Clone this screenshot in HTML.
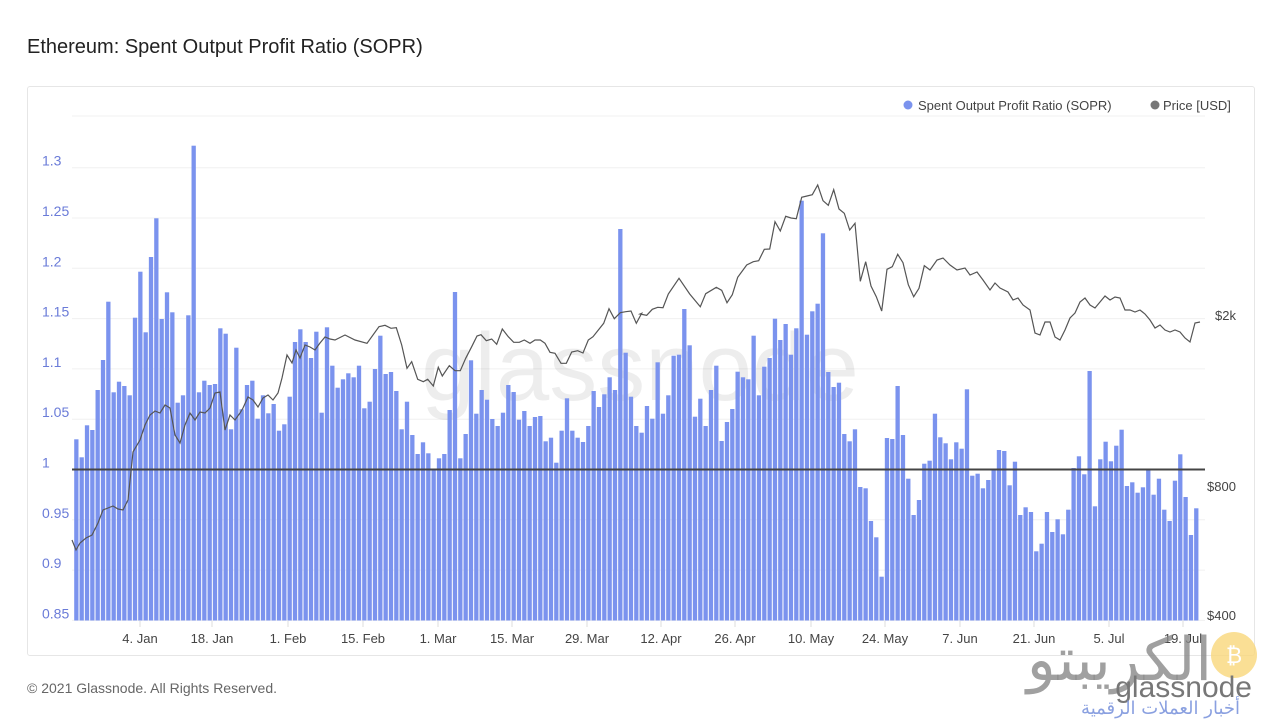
<!DOCTYPE html>
<html><head><meta charset="utf-8"><style>
body{margin:0;background:#fff;width:1280px;height:720px;overflow:hidden;font-family:"Liberation Sans",sans-serif;position:relative}
.t{position:absolute;left:27px;top:36px;font-size:20px;color:#222;}
.card{position:absolute;left:27px;top:86px;width:1226px;height:568px;border:1px solid #e6e6e6;border-radius:3px}
.f{position:absolute;left:27px;top:680px;font-size:14px;color:#666}
</style></head><body>
<div class="t">Ethereum: Spent Output Profit Ratio (SOPR)</div>
<div class="card"></div>
<div class="f">© 2021 Glassnode. All Rights Reserved.</div>
<svg id="s" width="1280" height="720" style="position:absolute;left:0;top:0" font-family="Liberation Sans, sans-serif"></svg>
<script>
var z3=[928,982,886,900,780,690,515,787,755,768,796,563,425,607,381,265,567,487,547,818,796,556,47,787,752,765,762,595,611,898,653,838,765,752,866,796,850,822,902,883,800,636,598,636,684,605,848,592,707,773,748,730,742,707];
var z4=[685,665,567,467,582,576,633,748,665,765,822,787,820,868,835,822,690,336,835,762,541,701,630,659,717,738,698,615,636,719,693,738,711,708,784,773,848,752,655,752,773,786,738,633,681,643,592,630,147,518,650,738,758];
var z5=[708,746,577,731,676,557,554,417,526,740,686,768,660,587,813,756,717,605,622,628,497,676,590,564,446,510,462,554,475,92,494,424,401,190,606,651,638,792,814,778,951,955,1053,1102,1220,804,807,648,795,926,1035,990,881,872];
var z2=[101,172,190,238,187,206,28,287,281,325,300,270,210,213,316,245,405,382,396,514,491,396,456,418,463,389,264,229,283,-27,379,238,185,244,197,149,318,307,338,322,270,344,296,389,423,302,223,351,465,385];
var tops=[];
z3.forEach(v=>tops.push(130+v/3));z4.forEach(v=>tops.push(180+v/3));z5.forEach(v=>tops.push(170+v/3));z2.forEach(v=>tops.push(380+v/3));
var h='';
var vals=['1.3','1.25','1.2','1.15','1.1','1.05','1','0.95','0.9','0.85'];
h+='<line x1="72" x2="1205" y1="116" y2="116" stroke="#f0f0f0"/>';
for(var i=0;i<10;i++){var y=167.7+i*50.3;h+='<line x1="72" x2="1205" y1="'+y+'" y2="'+y+'" stroke="#f0f0f0"/>';h+='<text x="42" y="'+(y-2)+'" font-size="14" fill="#6a7bd8">'+vals[i]+'</text>';}
h+='<text x="640" y="400" text-anchor="middle" font-size="96" fill="#000" fill-opacity="0.07">glassnode</text>';
for(var i=0;i<tops.length;i++){var x=74.2+i*5.333;h+='<rect x="'+x.toFixed(2)+'" y="'+tops[i].toFixed(1)+'" width="4.3" height="'+(620.5-tops[i]).toFixed(1)+'" fill="#7b93ee"/>';}
h+='<line x1="72" x2="1205" y1="469.5" y2="469.5" stroke="#444" stroke-width="2"/>';
var p4=[[0,480],[36,490],[72,440],[90,436],[108,445],[124,443],[140,495],[156,565],[170,545],[188,598],[205,605],[218,598],[235,618],[250,562],[262,588],[283,557],[300,572],[316,572],[332,535],[350,500],[366,468],[378,464],[394,482],[410,477],[425,493],[442,447],[460,470],[476,487],[493,487],[508,480],[525,490],[540,480],[556,480],[570,490],[585,517],[600,520],[618,550],[634,550],[650,516],[668,512],[684,519],[700,480],[714,470],[746,430],[762,386],[778,416],[796,398],[812,395],[828,393],[844,430],[860,400]];
var p5=[[0,432],[20,436],[37,418],[53,412],[69,413],[85,372],[117,325],[149,372],[181,410],[197,371],[229,352],[245,361],[261,398],[277,374],[293,322],[320,285],[340,275],[356,272],[373,238],[389,237],[405,155],[421,183],[437,139],[453,144],[469,146],[485,82],[501,78],[517,74],[533,45],[549,92],[565,106],[581,59],[597,117],[613,130],[629,180],[645,160],[661,334],[677,275],[693,348],[709,380],[725,423],[741,298],[757,290],[773,253],[789,278],[805,344],[821,380],[837,355],[853,287],[870,300]];
var pts=[[72,540],[76,550],[80,543],[86,538],[92,535],[98,523],[103,510],[108,508],[113,506],[118,509],[123,510],[128,500],[133,452],[140,440],[145,425],[150,415],[155,411],[160,413],[165,405],[170,408],[175,435],[180,443],[185,425],[190,413],[195,420],[200,412],[205,413],[210,408],[215,393],[220,392],[225,430],[230,415],[235,420],[240,413],[243,408],[248,397],[253,400],[258,407],[263,398],[268,395],[273,400],[278,393],[282,378],[287,355],[292,363],[296,350],[300,358],[305,345],[310,347],[315,350],[320,343],[325,337],[330,339],[335,340],[345,335]];
p4.forEach(p=>pts.push([355+p[0]/3,180+p[1]/3]));p5.forEach(p=>pts.push([640+p[0]/3,170+p[1]/3]));
[[937,260],[943,258],[950,265],[957,270],[965,268],[970,275],[977,272],[983,280],[990,290],[995,283],[1000,288],[1008,292],[1013,300],[1018,298],[1023,305],[1030,310],[1035,333],[1040,335],[1045,322],[1050,322],[1055,337],[1060,340],[1065,330],[1070,318],[1075,313],[1080,302],[1085,298],[1090,305],[1095,308],[1100,302],[1105,296],[1110,300],[1115,297],[1120,298],[1125,310],[1130,310],[1135,312],[1140,310],[1145,314],[1150,320],[1155,328],[1160,325],[1165,330],[1170,332],[1175,330],[1180,332],[1185,338],[1190,342],[1195,323],[1200,322]].forEach(p=>pts.push(p));
h+='<polyline fill="none" stroke="#555" stroke-width="1.2" points="'+pts.map(p=>p[0].toFixed(1)+','+p[1].toFixed(1)).join(' ')+'"/>';
h+='<text x="1215" y="320" font-size="13" fill="#444">$2k</text><text x="1207" y="491" font-size="13" fill="#444">$800</text><text x="1207" y="620" font-size="13" fill="#444">$400</text>';
var xl=[['4. Jan',140],['18. Jan',212],['1. Feb',288],['15. Feb',363],['1. Mar',438],['15. Mar',512],['29. Mar',587],['12. Apr',661],['26. Apr',735],['10. May',811],['24. May',885],['7. Jun',960],['21. Jun',1034],['5. Jul',1109],['19. Jul',1183]];
xl.forEach(l=>{h+='<line x1="'+l[1]+'" x2="'+l[1]+'" y1="621" y2="627" stroke="#ddd"/><text x="'+l[1]+'" y="643" text-anchor="middle" font-size="13" fill="#444">'+l[0]+'</text>';});
h+='<circle cx="908" cy="105" r="4.5" fill="#7b93ee"/><text x="918" y="110" font-size="13" fill="#444">Spent Output Profit Ratio (SOPR)</text>';
h+='<circle cx="1155" cy="105" r="4.5" fill="#777"/><text x="1163" y="110" font-size="13" fill="#444">Price [USD]</text>';
h+='<circle cx="1234" cy="655" r="23" fill="#f9d77a" fill-opacity="0.8"/><text x="1234" y="663" text-anchor="middle" font-size="22" fill="#fff">₿</text>';
h+='<text x="1212" y="680" text-anchor="end" font-size="60" fill="#888" fill-opacity="0.8" font-family="Noto Sans CJK SC, DejaVu Sans, sans-serif">الكريبتو</text>';
h+='<text x="1252" y="697" text-anchor="end" font-size="30" fill="#777">glassnode</text>';
h+='<text x="1240" y="714" text-anchor="end" font-size="18" fill="#8aa0e0" font-family="DejaVu Sans, sans-serif" letter-spacing="4">أخبار العملات الرقمية</text>';
document.getElementById('s').innerHTML=h;
</script>
</body></html>
